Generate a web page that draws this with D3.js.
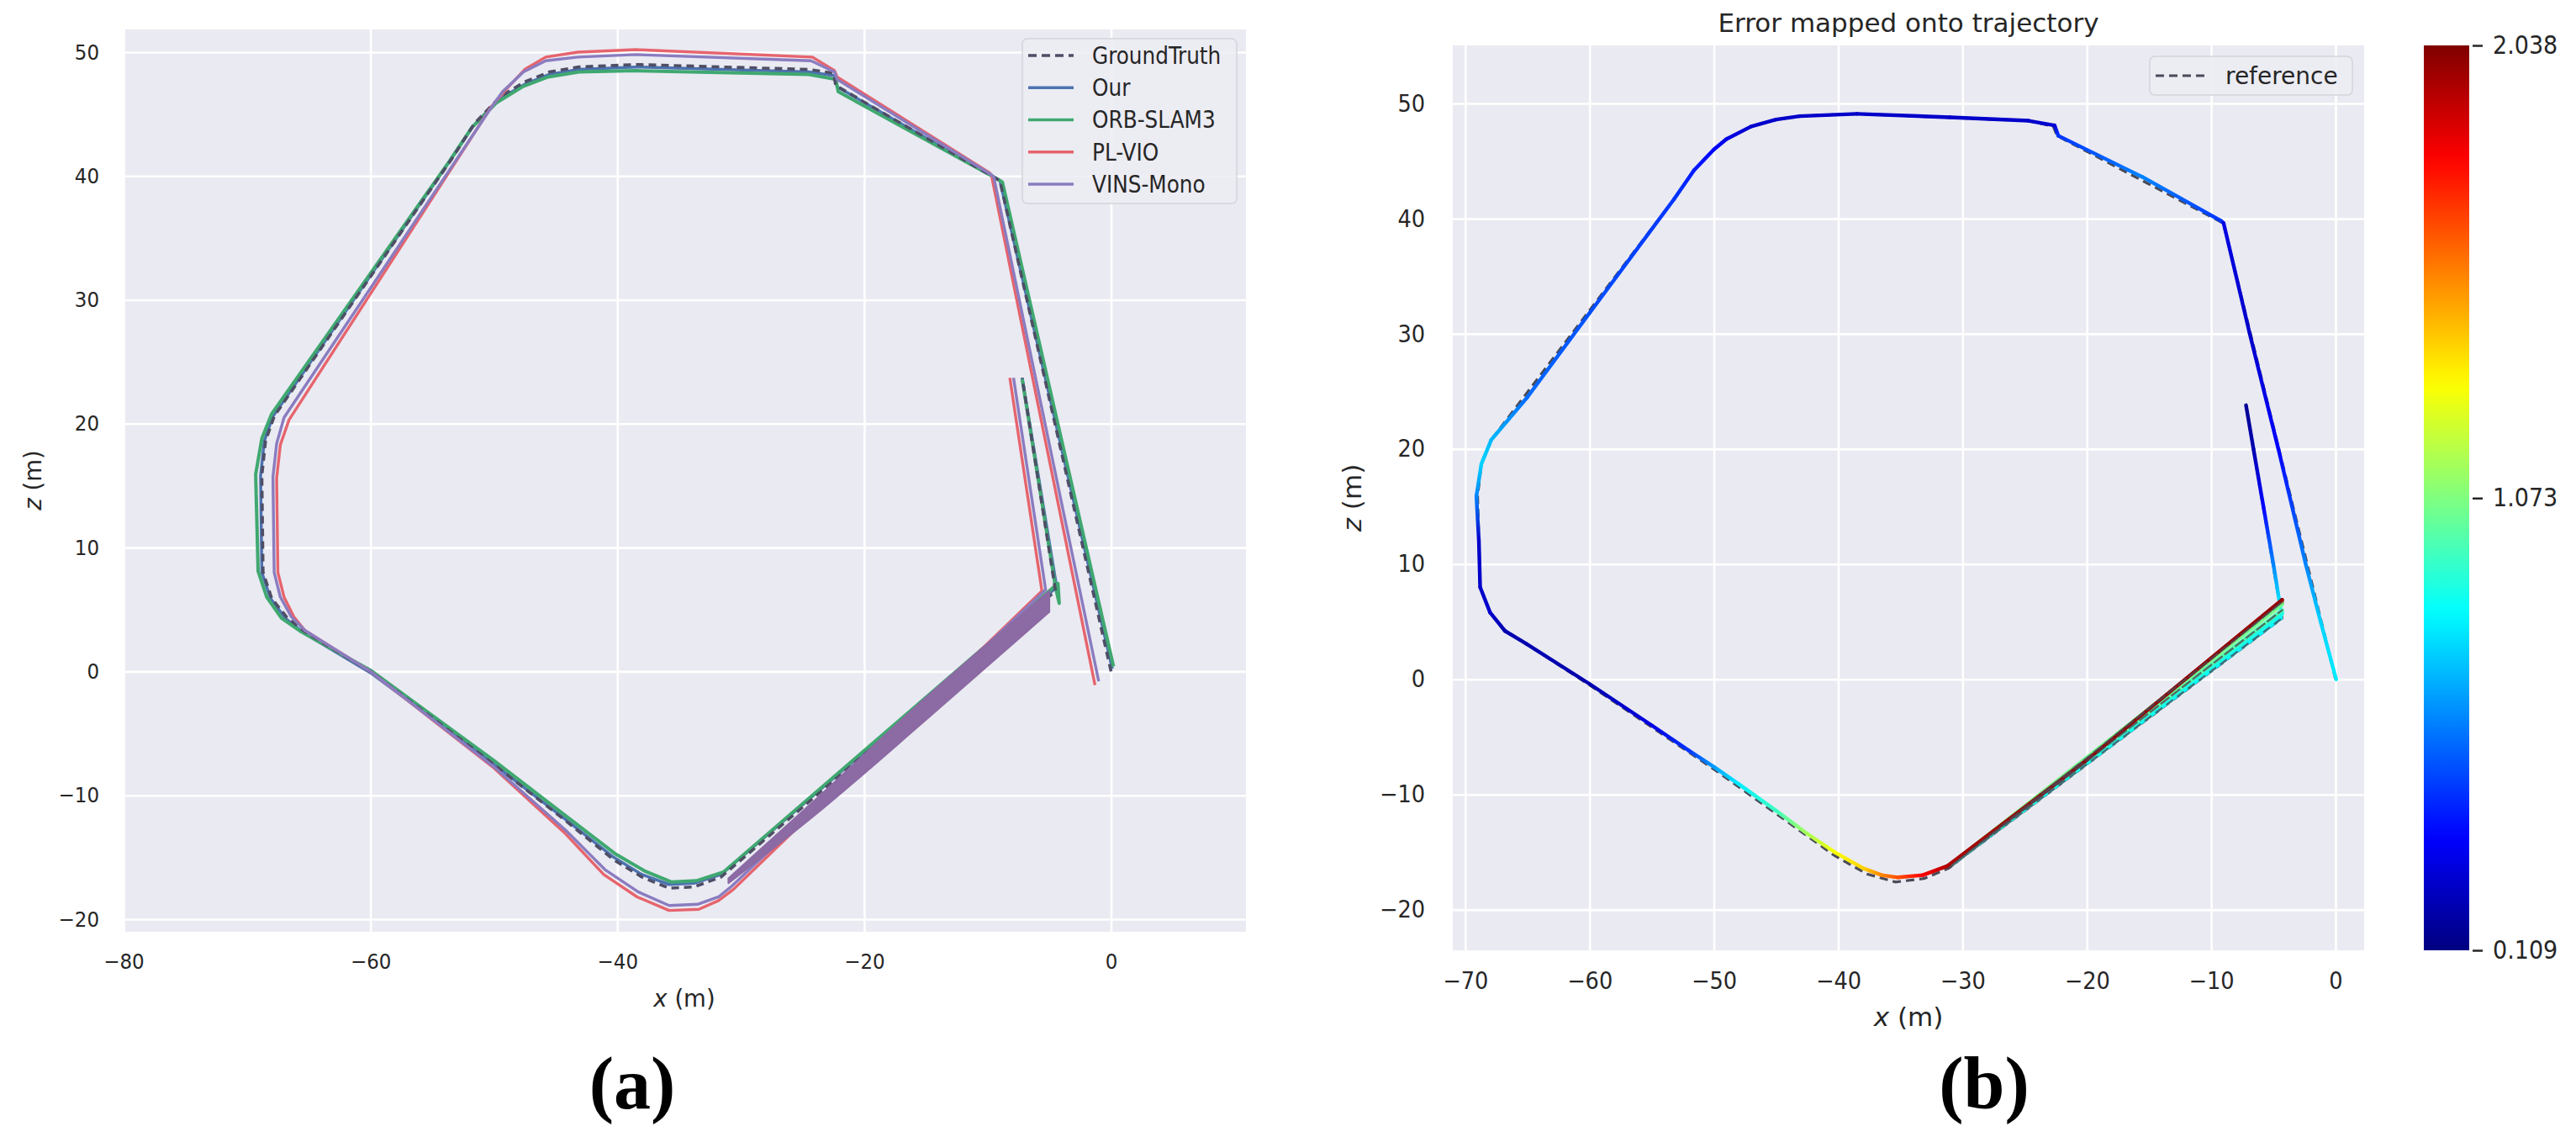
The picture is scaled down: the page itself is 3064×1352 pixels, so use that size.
<!DOCTYPE html>
<html><head><meta charset="utf-8">
<script src="https://cdn.jsdelivr.net/npm/d3@7"></script>
<style>
body{margin:0;background:#fff}
svg{display:block}
text{font-family:"DejaVu Sans Condensed","DejaVu Sans",sans-serif;fill:#262626}
.reg{font-family:"DejaVu Sans",sans-serif}
</style>
</head><body>
<svg id="c" width="3064" height="1352"></svg>
<script>
// ---------------- DATA ----------------
const seriesNames = ["GroundTruth", "Our", "ORB-SLAM3", "PL-VIO", "VINS-Mono"];
const leftXTicks = [-80, -60, -40, -20, 0];
const leftZTicks = [-20, -10, 0, 10, 20, 30, 40, 50];
const rightXTicks = [-70, -60, -50, -40, -30, -20, -10, 0];
const rightZTicks = [-20, -10, 0, 10, 20, 30, 40, 50];
const errTicks = [0.109, 1.073, 2.038];

// (a) trajectories, x and z in metres
const gtX = [0, -9.0, -9.3, -22.3, -22.5, -24.5, -38.5, -43.1, -45.5, -47.5, -49.5, -51.6, -53.4, -67.8, -68.5, -68.8, -68.7, -68.0, -66.8, -65.3, -60.0, -50.0, -44.0, -40.3, -38.0, -35.8, -33.8, -31.6, -4.5, -7.2];
const gtZ = [0, 39.6, 39.8, 47.3, 48.3, 48.6, 49.0, 48.8, 48.4, 47.6, 46.4, 44.2, 41.4, 20.6, 18.6, 15.8, 8.0, 5.9, 4.4, 3.2, 0.0, -7.5, -12.2, -15.2, -16.6, -17.5, -17.4, -16.6, 6.5, 23.7];

const ourX = [0.1, -9.0, -9.3, -22.2, -22.4, -24.5, -38.5, -43.1, -45.5, -47.5, -49.6, -51.7, -53.5, -67.9, -68.6, -68.9, -68.8, -68.1, -66.9, -65.4, -60.0, -50.0, -44.0, -40.3, -38.0, -35.8, -33.8, -31.6, -4.4, -7.2];
const ourZ = [0.2, 39.6, 39.8, 47.2, 48.1, 48.4, 48.8, 48.6, 48.2, 47.4, 46.2, 44.0, 41.3, 20.6, 18.6, 15.8, 8.0, 5.9, 4.3, 3.1, -0.1, -7.5, -12.1, -15.0, -16.4, -17.2, -17.1, -16.4, 6.8, 23.7];

const orbX = [0.2, -8.8, -9.1, -22.1, -22.3, -24.5, -38.5, -43.1, -45.6, -47.7, -49.8, -51.8, -53.6, -68.0, -68.8, -69.3, -69.1, -68.4, -67.2, -65.6, -60.0, -50.0, -44.0, -40.2, -37.8, -35.6, -33.6, -31.4, -4.3, -4.2, -4.5, -7.2];
const orbZ = [0.4, 39.5, 39.7, 46.8, 47.8, 48.2, 48.5, 48.4, 48.0, 47.2, 45.9, 43.9, 41.2, 20.8, 18.8, 15.9, 8.1, 6.0, 4.3, 3.2, 0.1, -7.2, -11.8, -14.7, -16.1, -17.0, -16.9, -16.2, 7.1, 5.5, 6.8, 23.6];

const plvioX = [-1.3, -9.7, -9.9, -22.2, -22.4, -24.2, -38.5, -43.2, -45.8, -47.5, -49.0, -50.2, -66.6, -67.3, -67.6, -67.5, -67.0, -66.2, -65.3, -60.0, -50.0, -44.3, -41.1, -38.4, -35.8, -33.4, -31.8, -30.6, -5.6, -8.2];
const plvioZ = [-1.1, 40.1, 40.3, 48.0, 48.5, 49.6, 50.2, 50.0, 49.6, 48.6, 47.0, 45.6, 20.3, 18.3, 15.6, 8.0, 6.0, 4.4, 3.3, 0.0, -7.8, -13.0, -16.4, -18.2, -19.3, -19.2, -18.5, -17.6, 6.5, 23.7];

const vinsX = [-1.0, -9.5, -9.7, -22.2, -22.4, -24.3, -38.5, -43.2, -45.8, -47.6, -49.3, -50.3, -67.0, -67.6, -67.9, -67.8, -67.3, -66.4, -65.3, -60.0, -50.0, -44.2, -41.0, -38.3, -35.8, -33.5, -31.8, -30.8, -5.3, -7.9];
const vinsZ = [-0.8, 39.9, 40.1, 47.8, 48.4, 49.3, 49.8, 49.6, 49.3, 48.4, 46.8, 45.4, 20.5, 18.4, 15.7, 8.0, 6.0, 4.4, 3.3, 0.0, -7.7, -12.8, -16.0, -17.8, -18.9, -18.8, -18.2, -17.4, 6.6, 23.7];
// repeated VINS-Mono passes forming the band on the lower-right leg
const vinsBandX = [-31.0, -24.0, -15.1, -5.0];
const vinsBandTop = [-16.7, -10.4, -2.2, 6.5];
const vinsBandBottom = [-17.1, -11.6, -4.0, 4.8];

// (b) reference and estimate with error
const refX = [0, -9.0, -9.2, -22.4, -22.7, -24.7, -38.5, -43.1, -45.0, -47.0, -49.0, -50.0, -51.6, -53.2, -67.9, -68.7, -69.0, -68.8, -68.0, -66.8, -65.1, -60.0, -50.0, -44.3, -40.3, -37.7, -35.4, -33.1, -31.1, -4.3, -30.9, -4.3, -30.8, -4.3, -7.2];
const refZ = [0, 39.5, 39.7, 47.2, 48.0, 48.5, 49.1, 48.9, 48.6, 48.0, 46.9, 46.0, 44.2, 41.7, 20.8, 18.7, 15.9, 8.0, 5.8, 4.2, 3.1, -0.5, -7.8, -12.2, -15.3, -16.9, -17.6, -17.3, -16.4, 6.7, -16.2, 6.0, -16.1, 5.3, 23.8];

const estX = [0.05, -1.2, -2.4, -4.6, -6.9, -9.0, -9.2, -15.5, -22.3, -22.6, -24.7, -31.0, -38.5, -43.1, -45.0, -47.0, -49.0, -50.0, -51.6, -53.2, -60.0, -65.0, -67.9, -68.7, -69.1, -68.9, -68.8, -68.0, -66.8, -65.1, -60.0, -55.0, -52.0, -50.0, -48.0, -45.0, -42.5, -40.3, -38.0, -36.5, -35.2, -33.2, -31.2, -20.0, -4.3, -4.3, -30.9, -4.3, -4.3, -30.8, -4.4, -4.4, -5.0, -5.8, -6.6, -7.2];
const estZ = [0.0, 5.0, 10.0, 20.0, 30.0, 39.6, 39.8, 43.6, 47.2, 48.1, 48.5, 48.8, 49.1, 48.9, 48.6, 48.0, 46.9, 46.0, 44.2, 41.7, 31.8, 24.5, 20.8, 18.7, 15.9, 12.0, 8.0, 5.8, 4.2, 3.1, -0.4, -4.0, -6.2, -7.6, -9.1, -11.4, -13.4, -15.0, -16.4, -17.0, -17.2, -17.0, -16.2, -7.0, 6.9, 6.5, -16.0, 6.0, 5.7, -16.0, 5.3, 6.0, 10.0, 15.0, 20.0, 23.8];
const estErr = [0.80, 0.75, 0.60, 0.35, 0.25, 0.30, 0.45, 0.60, 0.45, 0.27, 0.25, 0.25, 0.25, 0.25, 0.25, 0.26, 0.30, 0.35, 0.40, 0.45, 0.50, 0.55, 0.70, 0.75, 0.60, 0.25, 0.25, 0.25, 0.20, 0.20, 0.20, 0.30, 0.45, 0.65, 0.80, 0.95, 1.15, 1.30, 1.40, 1.55, 1.65, 1.80, 1.95, 2.00, 2.00, 1.05, 1.05, 0.98, 0.88, 0.88, 0.82, 0.82, 0.60, 0.35, 0.20, 0.15];

// ---------------- DRAWING ----------------
const svg = d3.select('#c');
const defs = svg.append('defs');
const AX_BG = '#EAEAF2';
const colors = {gt: '#4e4e66', our: '#4C72B0', orb: '#3fa870', pl: '#e6646d', vins: '#8a7cc0'};

function toPts(xs, zs) { return xs.map((v, i) => [v, zs[i]]); }

function drawAxes(g, x, z, xT, zT, fs, padX, padY) {
  const [x0, x1] = x.range(), [y1, y0] = z.range();
  g.append('rect').attr('x', x0).attr('y', y0).attr('width', x1 - x0).attr('height', y1 - y0).attr('fill', AX_BG);
  const gx = g.append('g').attr('transform', `translate(0,${y1})`)
    .call(d3.axisBottom(x).tickValues(xT).tickSize(-(y1 - y0)).tickPadding(padX));
  const gy = g.append('g').attr('transform', `translate(${x0},0)`)
    .call(d3.axisLeft(z).tickValues(zT).tickSize(-(x1 - x0)).tickPadding(padY));
  [gx, gy].forEach(a => {
    a.select('.domain').remove();
    a.selectAll('line').attr('stroke', '#ffffff').attr('stroke-width', 2.6);
    a.selectAll('text').attr('font-size', fs).attr('fill', '#262626');
  });
}

// ---------- panel (a) ----------
const xL = d3.scaleLinear().domain([-80, 10.93]).range([147, 1482]);
const zL = d3.scaleLinear().domain([-21.02, 51.83]).range([1108, 35]);
const gA = svg.append('g');
drawAxes(gA, xL, zL, leftXTicks, leftZTicks, 25.5, 26, 29);

defs.append('clipPath').attr('id', 'clipA').append('rect')
  .attr('x', 147).attr('y', 35).attr('width', 1335).attr('height', 1073);
const plotA = gA.append('g').attr('clip-path', 'url(#clipA)');
const lineA = d3.line().x(d => xL(d[0])).y(d => zL(d[1]));
function trace(g, pts, col, w, dash) {
  const p = g.append('path').attr('d', lineA(pts)).attr('fill', 'none').attr('stroke', col)
    .attr('stroke-width', w).attr('stroke-linejoin', 'round').attr('stroke-linecap', 'butt');
  if (dash) p.attr('stroke-dasharray', dash);
  return p;
}
trace(plotA, toPts(ourX, ourZ), colors.our, 3.5);
trace(plotA, toPts(orbX, orbZ), colors.orb, 4);
trace(plotA, toPts(gtX, gtZ), colors.gt, 3.6, '9,6');
trace(plotA, toPts(plvioX, plvioZ), colors.pl, 3.4);
trace(plotA, toPts(vinsX, vinsZ), colors.vins, 3.4);
const bandArea = d3.area().curve(d3.curveMonotoneX).x((d, i) => xL(vinsBandX[i])).y0((d, i) => zL(vinsBandBottom[i])).y1((d, i) => zL(vinsBandTop[i]));
plotA.append('path').attr('d', bandArea(vinsBandX)).attr('fill', '#8c6aa4').attr('stroke', '#8c6aa4').attr('stroke-width', 2).attr('stroke-linejoin', 'round');

// legend (a)
const legA = gA.append('g');
legA.append('rect').attr('x', 1216).attr('y', 46).attr('width', 255).attr('height', 196).attr('rx', 6)
  .attr('fill', '#ECECF3').attr('fill-opacity', 0.85).attr('stroke', '#d4d4dc').attr('stroke-width', 1.5);
const legCols = [colors.gt, colors.our, colors.orb, colors.pl, colors.vins];
const legY = d3.scaleLinear().domain([0, 4]).range([66, 219]);
seriesNames.forEach((n, i) => {
  const y = legY(i);
  const l = legA.append('line').attr('x1', 1223).attr('x2', 1277).attr('y1', y).attr('y2', y)
    .attr('stroke', legCols[i]).attr('stroke-width', 3.6);
  if (i === 0) l.attr('stroke-dasharray', '10,6');
  legA.append('text').attr('x', 1299).attr('y', y).attr('dy', '0.36em').attr('font-size', 27.5).text(n);
});

// axis labels (a)
const xlabA = gA.append('text').attr('class', 'reg').attr('x', 814).attr('y', 1197).attr('text-anchor', 'middle').attr('font-size', 27.5);
xlabA.append('tspan').attr('font-style', 'italic').text('x');
xlabA.append('tspan').text(' (m)');
const zlabA = gA.append('text').attr('class', 'reg').attr('transform', 'translate(49,571) rotate(-90)').attr('text-anchor', 'middle').attr('font-size', 27.5);
zlabA.append('tspan').attr('font-style', 'italic').text('z');
zlabA.append('tspan').text(' (m)');
svg.append('text').attr('x', 752).attr('y', 1318).attr('text-anchor', 'middle')
  .attr('font-size', 88).attr('font-weight', 'bold').style('font-family', '"Liberation Serif","DejaVu Serif",serif')
  .style('fill', '#000').text('(a)');

// ---------- panel (b) ----------
const xR = d3.scaleLinear().domain([-71.0, 2.3]).range([1728, 2812]);
const zR = d3.scaleLinear().domain([-23.53, 55.04]).range([1130, 54]);
const gB = svg.append('g');
drawAxes(gB, xR, zR, rightXTicks, rightZTicks, 28.5, 26, 33);

defs.append('clipPath').attr('id', 'clipB').append('rect')
  .attr('x', 1728).attr('y', 54).attr('width', 1084).attr('height', 1076);
const plotB = gB.append('g').attr('clip-path', 'url(#clipB)');
const lineB = d3.line().x(d => xR(d[0])).y(d => zR(d[1]));
const refStyle = p => p.attr('fill', 'none').attr('stroke', '#4a4a58').attr('stroke-width', 3.2)
  .attr('stroke-dasharray', '10,6').attr('stroke-linejoin', 'round');

function jet(t) {
  const c = v => Math.round(255 * Math.max(0, Math.min(1, v)));
  return `rgb(${c(Math.min(4 * t - 1.5, -4 * t + 4.5))},${c(Math.min(4 * t - 0.5, -4 * t + 3.5))},${c(Math.min(4 * t + 0.5, -4 * t + 2.5))})`;
}
const errNorm = d3.scaleLinear().domain([errTicks[0], errTicks[2]]).range([0, 1]).clamp(true);
const errColor = e => jet(errNorm(e));

refStyle(plotB.append('path').attr('d', lineB(toPts(refX, refZ))));
// coloured estimate: segments painted last-to-first so the earliest pass of the repeated leg stays on top
const segIdx = d3.range(estX.length - 1).reverse();
segIdx.forEach(i => {
  const x1 = xR(estX[i]), y1 = zR(estZ[i]), x2 = xR(estX[i + 1]), y2 = zR(estZ[i + 1]);
  const gid = 'seg' + i;
  const gr = defs.append('linearGradient').attr('id', gid).attr('gradientUnits', 'userSpaceOnUse')
    .attr('x1', x1).attr('y1', y1).attr('x2', x2 + (x1 === x2 && y1 === y2 ? 1 : 0)).attr('y2', y2);
  gr.append('stop').attr('offset', 0).attr('stop-color', errColor(estErr[i]));
  gr.append('stop').attr('offset', 1).attr('stop-color', errColor(estErr[i + 1]));
  plotB.append('line').attr('x1', x1).attr('y1', y1).attr('x2', x2).attr('y2', y2)
    .attr('stroke', `url(#${gid})`).attr('stroke-width', 4.4).attr('stroke-linecap', 'round');
});
// reference passes on the repeated leg stay visible above the coloured estimate
refStyle(plotB.append('path').attr('d', lineB(toPts(refX.slice(28, 34), refZ.slice(28, 34))))).attr('stroke-width', 2.4).attr('opacity', 0.8);

// legend (b)
const legB = gB.append('g');
legB.append('rect').attr('x', 2557).attr('y', 67).attr('width', 241).attr('height', 46).attr('rx', 6)
  .attr('fill', '#ECECF3').attr('fill-opacity', 0.85).attr('stroke', '#d4d4dc').attr('stroke-width', 1.5);
legB.append('line').attr('x1', 2564).attr('x2', 2622).attr('y1', 90).attr('y2', 90)
  .attr('stroke', '#4a4a58').attr('stroke-width', 3.2).attr('stroke-dasharray', '10,6');
legB.append('text').attr('class', 'reg').attr('x', 2647).attr('y', 90).attr('dy', '0.36em').attr('font-size', 28).text('reference');

// title & labels (b)
gB.append('text').attr('class', 'reg').attr('x', 2270).attr('y', 38).attr('text-anchor', 'middle').attr('font-size', 31).text('Error mapped onto trajectory');
const xlabB = gB.append('text').attr('class', 'reg').attr('x', 2270).attr('y', 1220).attr('text-anchor', 'middle').attr('font-size', 31);
xlabB.append('tspan').attr('font-style', 'italic').text('x');
xlabB.append('tspan').text(' (m)');
const zlabB = gB.append('text').attr('class', 'reg').attr('transform', 'translate(1619,592) rotate(-90)').attr('text-anchor', 'middle').attr('font-size', 31);
zlabB.append('tspan').attr('font-style', 'italic').text('z');
zlabB.append('tspan').text(' (m)');
svg.append('text').attr('x', 2360).attr('y', 1318).attr('text-anchor', 'middle')
  .attr('font-size', 88).attr('font-weight', 'bold').style('font-family', '"Liberation Serif","DejaVu Serif",serif')
  .style('fill', '#000').text('(b)');

// colorbar
const cScale = d3.scaleLinear().domain([errTicks[0], errTicks[2]]).range([1130, 54]);
const cg = defs.append('linearGradient').attr('id', 'cbar').attr('x1', 0).attr('y1', 1).attr('x2', 0).attr('y2', 0);
d3.range(0, 1.0001, 0.02).forEach(t => cg.append('stop').attr('offset', t).attr('stop-color', jet(t)));
svg.append('rect').attr('x', 2883).attr('y', 54).attr('width', 54).attr('height', 1076).attr('fill', 'url(#cbar)');
const cax = svg.append('g').attr('transform', 'translate(2941,0)')
  .call(d3.axisRight(cScale).tickValues(errTicks).tickSize(12).tickPadding(12).tickFormat(d3.format('.3f')));
cax.select('.domain').remove();
cax.selectAll('line').attr('stroke', '#262626').attr('stroke-width', 2.5);
cax.selectAll('text').attr('font-size', 30).attr('fill', '#262626');
</script>
</body></html>
